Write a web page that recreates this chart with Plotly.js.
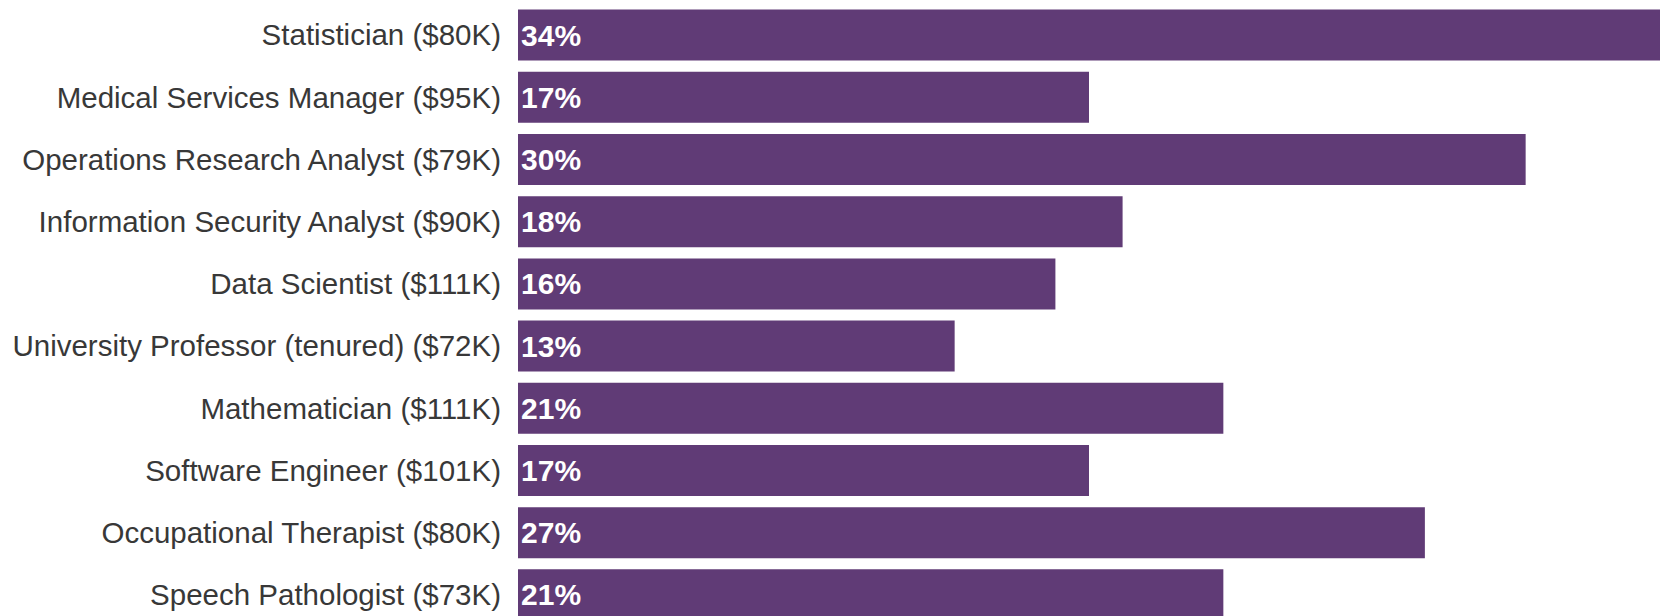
<!DOCTYPE html>
<html>
<head>
<meta charset="utf-8">
<script src="https://cdn.plot.ly/plotly-3.0.1.min.js"></script>
<style>html,body{margin:0;padding:0;background:#fff;}#chart{width:1660px;height:616px;}</style>
</head>
<body>
<div id="chart"></div>
<script>
const categories = [
  "Statistician ($80K)",
  "Medical Services Manager ($95K)",
  "Operations Research Analyst ($79K)",
  "Information Security Analyst ($90K)",
  "Data Scientist ($111K)",
  "University Professor (tenured) ($72K)",
  "Mathematician ($111K)",
  "Software Engineer ($101K)",
  "Occupational Therapist ($80K)",
  "Speech Pathologist ($73K)"
];
const growthPct = [34, 17, 30, 18, 16, 13, 21, 17, 27, 21];
const valueLabels = growthPct.map(v => v + "%");

const trace = {
  type: "bar",
  orientation: "h",
  y: categories,
  x: growthPct,
  text: valueLabels,
  textposition: "inside",
  insidetextanchor: "start",
  textangle: 0,
  insidetextfont: {family: "Liberation Sans, Arial, sans-serif", size: 30, color: "#ffffff", weight: "bold"},
  marker: {color: "#603b76", line: {width: 0}},
  hoverinfo: "none",
  cliponaxis: true
};

const layout = {
  width: 1660,
  height: 616,
  margin: {l: 518, r: 0, t: 4, b: 0, pad: 0},
  paper_bgcolor: "#ffffff",
  plot_bgcolor: "#ffffff",
  showlegend: false,
  bargap: 0.18,
  font: {family: "Liberation Sans, Arial, sans-serif", color: "#383838"},
  xaxis: {range: [0, 34], showgrid: false, zeroline: false, showticklabels: false, ticks: "", showline: false, fixedrange: true},
  yaxis: {type: "category", range: [9.34, -0.5], showgrid: false, zeroline: false, showline: false, ticks: "", ticklabelstandoff: 16, tickfont: {size: 29.5, color: "#383838"}, fixedrange: true}
};

Plotly.newPlot("chart", [trace], layout, {displayModeBar: false, staticPlot: true});
</script>
</body>
</html>
